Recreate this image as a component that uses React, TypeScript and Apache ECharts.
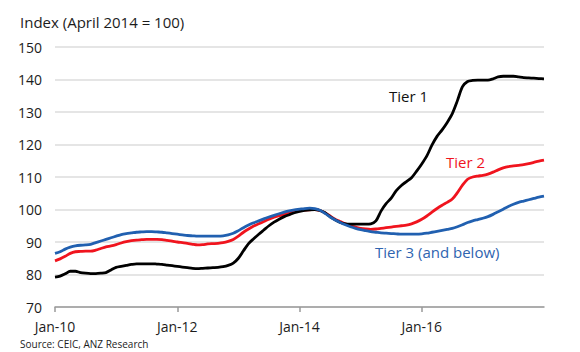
import React, { useEffect, useRef } from "react";
import * as echarts from "echarts";

const MONTHS = ["Jan", "Feb", "Mar", "Apr", "May", "Jun", "Jul", "Aug", "Sep", "Oct", "Nov", "Dec"];
const categories: string[] = [];
for (let y = 10; y <= 18; y++) {
  for (let m = 0; m < 12; m++) {
    if (y === 18 && m > 0) break;
    categories.push(`${MONTHS[m]}-${y}`);
  }
}

const tier1 = [
  79.2, 79.5, 80.2, 81.0, 81.0, 80.6, 80.4, 80.3, 80.3, 80.4, 80.6, 81.4,
  82.2, 82.5, 82.8, 83.1, 83.3, 83.3, 83.3, 83.3, 83.2, 83.1, 82.9, 82.7,
  82.5, 82.3, 82.1, 81.9, 81.8, 81.9, 82.0, 82.1, 82.2, 82.4, 82.8, 83.5,
  85.0, 87.3, 89.5, 91.0, 92.4, 93.7, 95.0, 96.1, 97.0, 97.8, 98.4, 99.0,
  99.4, 99.7, 99.9, 100.0, 99.7, 99.0, 97.8, 96.8, 96.0, 95.6, 95.5, 95.5,
  95.5, 95.5, 95.6, 96.5, 99.5, 101.8, 103.5, 105.8, 107.4, 108.6, 109.8, 111.8,
  114.0, 116.5, 119.8, 122.5, 124.5, 126.8, 129.5, 133.5, 137.8, 139.4, 139.7, 139.8,
  139.8, 139.8, 140.2, 140.8, 141.0, 141.0, 141.0, 140.8, 140.6, 140.5, 140.4, 140.3,
  140.2,
];

const tier2 = [
  84.2, 84.8, 85.6, 86.5, 87.0, 87.1, 87.2, 87.2, 87.5, 88.0, 88.5, 88.8,
  89.2, 89.7, 90.1, 90.4, 90.6, 90.7, 90.8, 90.8, 90.8, 90.7, 90.5, 90.3,
  90.0, 89.8, 89.6, 89.3, 89.1, 89.2, 89.4, 89.5, 89.6, 89.8, 90.2, 90.8,
  91.8, 93.0, 94.0, 94.9, 95.6, 96.3, 97.0, 97.6, 98.1, 98.5, 98.9, 99.3,
  99.6, 99.8, 99.9, 100.0, 99.7, 99.0, 98.0, 97.0, 96.3, 95.6, 95.0, 94.6,
  94.2, 94.0, 93.9, 94.0, 94.2, 94.4, 94.6, 94.8, 95.0, 95.2, 95.6, 96.2,
  97.0, 98.0, 99.2, 100.3, 101.3, 102.2, 103.2, 105.2, 107.5, 109.3, 110.0, 110.3,
  110.5, 110.9, 111.5, 112.2, 112.8, 113.2, 113.4, 113.6, 113.8, 114.1, 114.5, 114.9,
  115.2,
];

const tier3 = [
  86.5, 87.0, 87.8, 88.4, 88.8, 89.0, 89.1, 89.3, 89.8, 90.3, 90.8, 91.3,
  91.8, 92.3, 92.6, 92.8, 93.0, 93.1, 93.2, 93.2, 93.1, 93.0, 92.8, 92.6,
  92.4, 92.2, 92.0, 91.9, 91.8, 91.8, 91.8, 91.8, 91.8, 91.9, 92.2, 92.7,
  93.5, 94.4, 95.2, 95.9, 96.5, 97.1, 97.7, 98.2, 98.7, 99.2, 99.6, 99.9,
  100.1, 100.3, 100.4, 100.3, 99.8, 98.8, 97.7, 96.8, 96.0, 95.3, 94.7, 94.2,
  93.8, 93.5, 93.2, 93.0, 92.8, 92.7, 92.6, 92.5, 92.4, 92.4, 92.4, 92.4,
  92.5, 92.7, 93.0, 93.3, 93.6, 93.9, 94.2, 94.7, 95.3, 96.0, 96.5, 96.9,
  97.3, 97.8, 98.5, 99.3, 100.1, 100.9, 101.6, 102.2, 102.6, 103.0, 103.4, 103.8,
  104.1,
];

const yTicks = { min: 70, max: 150, interval: 10 };
const seriesNames = ["Tier 1", "Tier 2", "Tier 3 (and below)"];
const FONT = "'Open Sans', sans-serif";
const TEXT = "#1c1c1c";
const BLACK = "#000000";
const RED = "#f0141e";
const BLUE = "#2160b0";

export default function App() {
  const ref = useRef<HTMLDivElement>(null);
  useEffect(() => {
    if (!ref.current) return;
    const chart = echarts.init(ref.current, undefined, { renderer: "svg" });
    const showTick = (i: number) => i % 24 === 0 && i < 96;
    chart.setOption({
      animation: false,
      backgroundColor: "#ffffff",
      grid: { left: 55, right: 36, top: 47, bottom: 45, containLabel: false },
      xAxis: {
        type: "category",
        data: categories,
        boundaryGap: false,
        axisLine: { show: true, lineStyle: { color: "#9a9a9a", width: 1.5 } },
        axisTick: { show: true, interval: (i: number) => showTick(i), length: 5, lineStyle: { color: "#9a9a9a", width: 1.5 } },
        axisLabel: {
          interval: (i: number) => showTick(i),
          color: TEXT,
          fontFamily: FONT,
          fontSize: 14,
          margin: 12,
        },
        splitLine: { show: false },
      },
      yAxis: {
        type: "value",
        min: yTicks.min,
        max: yTicks.max,
        interval: yTicks.interval,
        axisLine: { show: false },
        axisTick: { show: false },
        axisLabel: { color: TEXT, fontFamily: FONT, fontSize: 14, margin: 13 },
        splitLine: { lineStyle: { color: "#dcdcdc", width: 1.5 } },
      },
      series: [
        { name: seriesNames[0], type: "line", data: tier1, showSymbol: false, smooth: 0.3, lineStyle: { color: BLACK, width: 2.8 }, z: 3 },
        { name: seriesNames[1], type: "line", data: tier2, showSymbol: false, smooth: 0.3, lineStyle: { color: RED, width: 2.8 }, z: 2 },
        { name: seriesNames[2], type: "line", data: tier3, showSymbol: false, smooth: 0.3, lineStyle: { color: BLUE, width: 2.8 }, z: 4 },
      ],
      graphic: [
        { type: "text", left: 20, top: 14, style: { text: "Index (April 2014 = 100)", fill: TEXT, font: `15px ${FONT}` } },
        { type: "text", left: 389, top: 88, style: { text: seriesNames[0], fill: "#111", font: `15px ${FONT}` } },
        { type: "text", left: 446, top: 154, style: { text: seriesNames[1], fill: RED, font: `15px ${FONT}` } },
        { type: "text", left: 375, top: 244, style: { text: seriesNames[2], fill: "#2f64b0", font: `15px ${FONT}` } },
        { type: "text", left: 20, top: 339, style: { text: "Source: CEIC, ANZ Research", fill: TEXT, font: `10px ${FONT}` } },
      ],
    });
    return () => chart.dispose();
  }, []);
  return <div ref={ref} style={{ width: 580, height: 352, position: "absolute", left: 0, top: 0 }} />;
}
